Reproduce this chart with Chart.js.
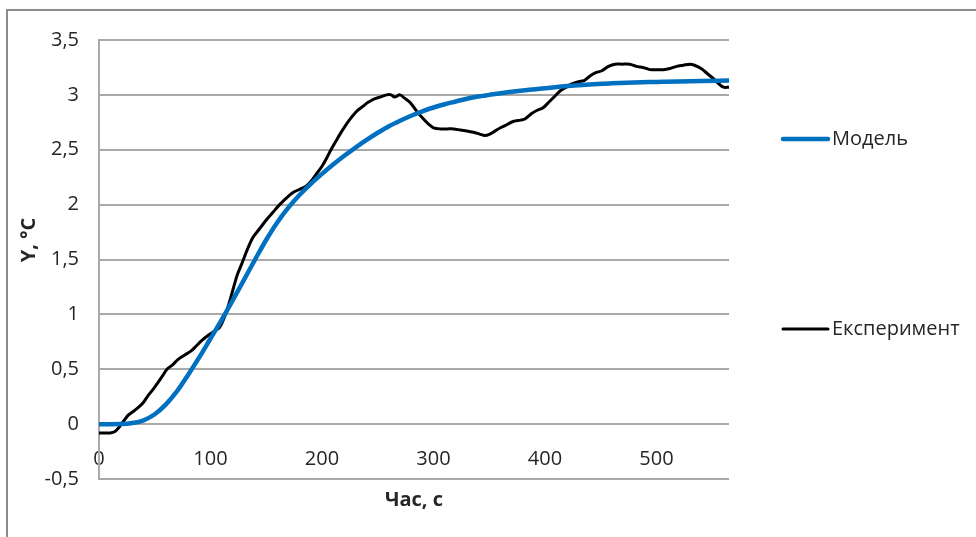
<!DOCTYPE html>
<html>
<head>
<meta charset="utf-8">
<script src="https://cdn.jsdelivr.net/npm/chart.js@4.4.1/dist/chart.umd.min.js"></script>
<style>
  html, body { margin: 0; padding: 0; background: #fff; }
  #wrap { position: relative; width: 976px; height: 537px; overflow: hidden; }
  #frame { position: absolute; left: 6px; top: 9px; width: 1100px; height: 700px;
           border-top: 2px solid #8c8c8c; border-left: 2px solid #8c8c8c; }
  #c { position: absolute; left: 0; top: 0; }
</style>
</head>
<body>
<div id="wrap">
  <div id="frame"></div>
  <canvas id="c" width="976" height="537"></canvas>
</div>
<script>
// Series labels and axis titles
const seriesNames = ['Модель', 'Експеримент'];
const xTitle = 'Час, с';
const yTitle = 'Y, °С';

// Model response: time (s) and temperature rise (°C)
const modelTime  = [0, 10, 20, 30, 40, 50, 60, 70, 80, 90, 100, 110, 120, 130, 140, 150, 160, 170, 180, 190,
                    200, 210, 220, 230, 240, 250, 260, 270, 280, 290, 300, 310, 320, 330, 340, 350, 360, 380,
                    400, 420, 440, 460, 480, 500, 520, 540, 565];
const modelValue = [0, 0, 0.001, 0.01, 0.035, 0.09, 0.18, 0.30, 0.45, 0.61, 0.78, 0.95, 1.13, 1.315, 1.50, 1.68, 1.84, 1.975, 2.09, 2.19,
                    2.28, 2.365, 2.445, 2.52, 2.59, 2.655, 2.715, 2.765, 2.81, 2.85, 2.885, 2.915, 2.94, 2.965, 2.985, 3.00, 3.015, 3.04,
                    3.06, 3.08, 3.095, 3.105, 3.113, 3.118, 3.123, 3.127, 3.13];

// Measured response: time (s) and temperature rise (°C)
const expTime  = [0, 5, 10, 14, 17, 20, 23, 26, 30, 35, 40, 44, 48, 53, 57, 61, 66, 71, 77, 83, 87, 92, 98, 104, 108,
                  112, 116, 120, 124, 128, 133, 138, 144, 150, 156, 162, 168, 174, 180, 186, 190, 195, 200, 204, 208,
                  212, 216, 221, 226, 231, 236, 241, 246, 252, 258, 262, 265, 270, 274, 279, 285, 291, 296, 300, 306,
                  312, 318, 324, 330, 336, 342, 346, 350, 355, 360, 366, 372, 378, 382, 388, 393, 398, 404, 409, 414,
                  419, 424, 430, 435, 440, 445, 451, 457, 463, 469, 476, 482, 488, 494, 500, 506, 512, 518, 524, 530,
                  534, 540, 546, 552, 556, 560, 565];
const expValue = [-0.08, -0.08, -0.08, -0.07, -0.04, 0.0, 0.04, 0.08, 0.11, 0.15, 0.20, 0.26, 0.31, 0.38, 0.44, 0.50, 0.54, 0.59, 0.63, 0.67, 0.71, 0.76, 0.81, 0.85, 0.88,
                  0.96, 1.08, 1.22, 1.36, 1.46, 1.59, 1.70, 1.78, 1.86, 1.93, 2.00, 2.06, 2.11, 2.14, 2.17, 2.21, 2.28, 2.35, 2.42, 2.50,
                  2.57, 2.64, 2.72, 2.79, 2.85, 2.89, 2.93, 2.96, 2.98, 3.00, 3.00, 2.98, 3.00, 2.97, 2.93, 2.85, 2.78, 2.73, 2.70, 2.69,
                  2.69, 2.69, 2.68, 2.67, 2.66, 2.64, 2.63, 2.64, 2.67, 2.70, 2.73, 2.76, 2.77, 2.78, 2.83, 2.86, 2.88, 2.94, 2.99, 3.04,
                  3.07, 3.10, 3.12, 3.13, 3.17, 3.20, 3.22, 3.26, 3.28, 3.28, 3.28, 3.26, 3.25, 3.23, 3.23, 3.23, 3.24, 3.26, 3.27, 3.28,
                  3.27, 3.24, 3.19, 3.14, 3.10, 3.07, 3.07];

// Axis ranges and tick steps
const xRange = [0, 565];
const xStep = 100;
const yRange = [-0.5, 3.5];
const yStep = 0.5;

const FONT = "'Open Sans', 'Noto Sans', sans-serif";
const TEXT = '#262626';
const GRID = '#a9a9a9';

const toPoints = (xs, ys) => xs.map((x, i) => ({ x: x, y: ys[i] }));

// Axis titles and the right-hand legend
const decor = {
  id: 'decor',
  afterDraw(chart) {
    const { ctx, chartArea: a } = chart;
    ctx.save();
    ctx.fillStyle = TEXT;
    ctx.font = 'bold 20px ' + FONT;
    ctx.textAlign = 'center';
    ctx.textBaseline = 'middle';
    ctx.fillText(xTitle, (a.left + a.right) / 2, 500);
    ctx.save();
    ctx.translate(29, 240);
    ctx.rotate(-Math.PI / 2);
    ctx.fillText(yTitle, 0, 0);
    ctx.restore();

    const rows = [139, 329];
    ctx.font = '20px ' + FONT;
    ctx.textAlign = 'left';
    chart.data.datasets.forEach((ds, i) => {
      const y = rows[i];
      ctx.strokeStyle = ds.borderColor;
      ctx.lineWidth = ds.borderWidth;
      ctx.lineCap = 'round';
      ctx.beginPath();
      ctx.moveTo(783, y);
      ctx.lineTo(828, y);
      ctx.stroke();
      ctx.fillStyle = TEXT;
      ctx.fillText(ds.label, 832, y);
    });
    ctx.restore();
  }
};

new Chart(document.getElementById('c'), {
  type: 'line',
  data: {
    datasets: [
      {
        label: seriesNames[0],
        data: toPoints(modelTime, modelValue),
        borderColor: '#0070c0',
        borderWidth: 4.5,
        cubicInterpolationMode: 'monotone',
        pointRadius: 0,
        fill: false
      },
      {
        label: seriesNames[1],
        data: toPoints(expTime, expValue),
        borderColor: '#000000',
        borderWidth: 3,
        tension: 0.3,
        pointRadius: 0,
        fill: false
      }
    ]
  },
  options: {
    responsive: false,
    animation: false,
    events: [],
    layout: { padding: { top: 40, right: 247, bottom: 58, left: 0 } },
    plugins: { legend: { display: false }, tooltip: { enabled: false } },
    scales: {
      x: {
        type: 'linear',
        position: { y: 0 },
        min: xRange[0],
        max: xRange[1],
        grid: { display: false, drawTicks: false },
        border: { display: false },
        ticks: {
          stepSize: xStep,
          includeBounds: false,
          maxRotation: 0,
          padding: 23,
          color: TEXT,
          font: { family: FONT, size: 20 }
        }
      },
      y: {
        type: 'linear',
        min: yRange[0],
        max: yRange[1],
        grid: { color: GRID, lineWidth: 2, drawTicks: false },
        border: { color: GRID, width: 2 },
        ticks: {
          stepSize: yStep,
          padding: 20,
          color: TEXT,
          font: { family: FONT, size: 20 },
          callback: (v) => String(Math.round(v * 10) / 10).replace('.', ',')
        },
        afterFit(scale) { scale.width = 99; }
      }
    }
  },
  plugins: [decor]
});
</script>
</body>
</html>
